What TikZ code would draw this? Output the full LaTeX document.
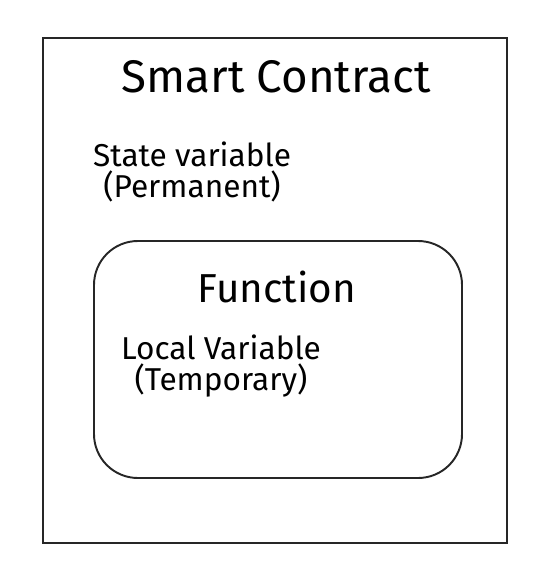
\documentclass[tikz,border=0pt]{standalone}
\usepackage{fontspec}
\setmainfont{Fira Sans}
\begin{document}
\begin{tikzpicture}[x=0.02cm, y=-0.02cm,
  sketch/.style={line width=1.1pt, black!85},
  titletext/.style={font=\fontsize{26}{30}\selectfont},
  bigtext/.style={font=\fontsize{23}{27}\selectfont},
  smalltext/.style={font=\fontsize{18}{17.6}\selectfont, align=center}]
  \useasboundingbox (0,0) rectangle (552,588);
  \draw[sketch] (43,38) rectangle (507,543);
  \draw[sketch, rounded corners=25pt] (94,241) rectangle (462,478);
  \node[titletext] (title) at (276,77) {Smart Contract};
  \node[smalltext] (statevar) at (192,172) {State variable\\(Permanent)};
  \node[bigtext] (func) at (277,287) {Function};
  \node[smalltext] (localvar) at (221,366) {Local Variable\\(Temporary)};
\end{tikzpicture}
\end{document}
